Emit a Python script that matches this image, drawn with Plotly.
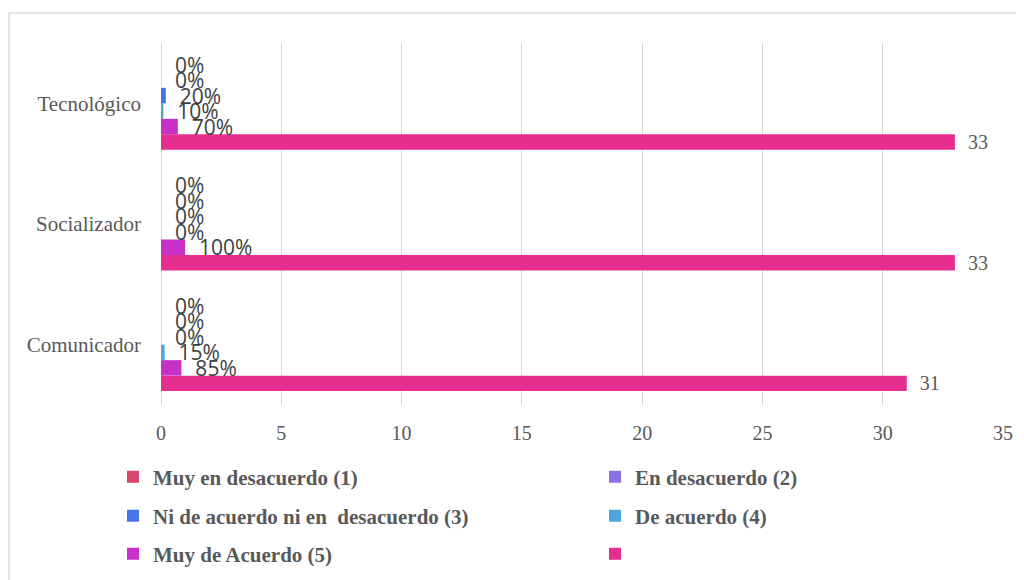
import plotly.graph_objects as go

categories = ["Comunicador", "Socializador", "Tecnológico"]

series_names = [
    "Muy en desacuerdo (1)",
    "En desacuerdo (2)",
    "Ni de acuerdo ni en  desacuerdo (3)",
    "De acuerdo (4)",
    "Muy de Acuerdo (5)",
    " ",
]
muy_en_desacuerdo = [0, 0, 0]
en_desacuerdo = [0, 0, 0]
ni_de_acuerdo = [0, 0, 0.2]
de_acuerdo = [0.15, 0, 0.1]
muy_de_acuerdo = [0.85, 1.0, 0.7]
total = [31, 33, 33]

series_values = [muy_en_desacuerdo, en_desacuerdo, ni_de_acuerdo,
                 de_acuerdo, muy_de_acuerdo, total]
colors = ["#D9466E", "#8C6FE0", "#4774E6", "#4EA6DC", "#C831C8", "#E52E8E"]

SERIF = "Liberation Serif, Times New Roman, serif"
SANS = "Open Sans, Liberation Sans, sans-serif"
NB = "\u00a0"

# layout geometry (figure is offset 8px by the page body margin)
OFF = 8
W, H = 1016, 600
ML, MR, MT, MB = 153, 21, 35, 203
PW, PH = W - ML - MR, H - MT - MB

def px_x(page_x):
    return (page_x - OFF - ML) / PW

def px_y(page_y):
    return (H - MB - (page_y - OFF)) / PH

legend_ids = ["legend", "legend2", "legend3", "legend4", "legend5", "legend6"]
legend_pos = [(113, 477), (595, 477), (113, 516), (595, 516), (113, 554), (595, 554)]

fig = go.Figure()
# add in reverse so that series 1 is at the top of each group
for i in reversed(range(len(series_names))):
    vals = series_values[i]
    if i == len(series_names) - 1:
        texts = [NB * 2 + f"{v:g}" for v in vals]
        tfont = dict(family=SERIF, size=20, color="#595959")
    else:
        texts = [NB * 2 + f"{v:.0%}" for v in vals]
        tfont = dict(family=SANS, size=21, color="#404040")
    fig.add_trace(go.Bar(
        y=categories, x=vals, orientation="h", name=series_names[i],
        marker=dict(color=colors[i], line=dict(width=0)),
        text=texts, textposition="outside", textfont=tfont,
        constraintext="none", cliponaxis=False,
        legend=legend_ids[i], legendrank=i + 1,
        hoverinfo="x+y+name",
    ))

legends = {}
for lid, (lx, ly) in zip(legend_ids, legend_pos):
    legends[lid] = dict(orientation="h", xanchor="left", yanchor="middle",
                        x=px_x(lx), y=px_y(ly), bgcolor="rgba(0,0,0,0)",
                        font=dict(family=SERIF, size=21, color="#595959",
                                  weight="bold"))

fig.update_layout(
    width=W, height=H,
    margin=dict(l=ML, r=MR, t=MT, b=MB),
    paper_bgcolor="white", plot_bgcolor="white",
    barmode="group", bargap=0.23, bargroupgap=0,
    showlegend=True,
    xaxis=dict(range=[0, 35], dtick=5, tick0=0, showgrid=True,
               gridcolor="#D9D9D9", gridwidth=1, zeroline=True,
               zerolinecolor="#D9D9D9", zerolinewidth=1, showline=False,
               ticks="", ticklabelstandoff=14,
               tickfont=dict(family=SERIF, size=20, color="#595959")),
    yaxis=dict(showgrid=False, zeroline=False, showline=False, ticks="",
               ticklabelstandoff=19,
               tickfont=dict(family=SERIF, size=21, color="#595959")),
    shapes=[dict(type="rect", xref="paper", yref="paper",
                 x0=px_x(OFF + 1), x1=px_x(1060), y0=px_y(640), y1=px_y(13),
                 line=dict(color="#D9D9D9", width=1.5), layer="below")],
    **legends,
)

fig.write_html("out.html")
